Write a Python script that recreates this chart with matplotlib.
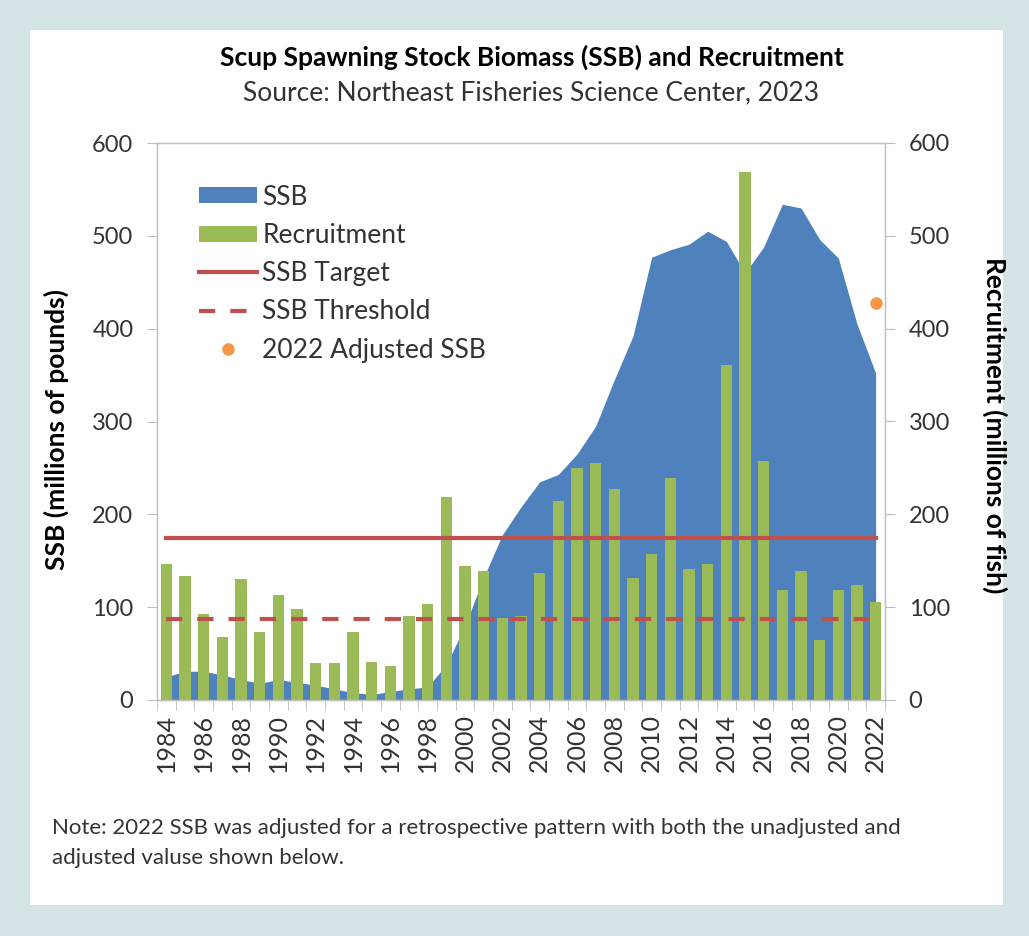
import matplotlib.pyplot as plt
from matplotlib.patches import Rectangle
from matplotlib.lines import Line2D
from matplotlib.patches import Patch
import numpy as np

plt.rcParams['font.family'] = ['Lato', 'DejaVu Sans']

# data
years = list(range(1984, 2023))
ssb = [25, 31, 31, 27, 22, 18, 22, 19, 16, 12, 8, 6, 9, 12, 14, 38, 80, 132,
       178, 208, 235, 243, 265, 295, 345, 392, 477, 485, 491, 505, 494, 460,
       488, 534, 530, 496, 476, 405, 352]
recruitment = [146, 134, 93, 68, 130, 73, 113, 98, 40, 40, 73, 41, 37, 91, 103,
               219, 144, 139, 88, 90, 137, 214, 250, 255, 227, 131, 157, 239,
               141, 146, 361, 569, 257, 118, 139, 65, 118, 124, 106]
ssb_target = 174
ssb_threshold = 87
adjusted_year = 2022
adjusted_ssb = 428
y_ticks = [0, 100, 200, 300, 400, 500, 600]

blue = '#4f81bd'
green = '#9bbb59'
red = '#c0504d'
orange = '#f79646'
grey = '#bfbfbf'
text_col = '#333333'
dash = (3.9, 3.6)

fig = plt.figure(figsize=(10.29, 9.36), dpi=100)
fig.patch.set_facecolor('#d5e4e7')
# white panel inside the border
fig.patches.append(Rectangle((30 / 1029, 1 - 905 / 936), 973 / 1029, 875 / 936,
                             transform=fig.transFigure, facecolor='white',
                             edgecolor='none', zorder=-1))

ax = fig.add_axes([157 / 1029, 1 - 700 / 936, 728 / 1029, 557 / 936])
ax.set_facecolor('white')

ax.fill_between(years, ssb, 0, color=blue, linewidth=0, zorder=1)
ax.bar(years, recruitment, width=0.6, color=green, zorder=2)
ax.plot([years[0], years[-1]], [ssb_target, ssb_target], color=red, lw=3, zorder=3)
ax.plot([years[0], years[-1]], [ssb_threshold, ssb_threshold], color=red, lw=3,
        dashes=dash, zorder=3)
ax.plot([adjusted_year], [adjusted_ssb], 'o', color=orange, ms=8, zorder=4)

ax.set_xlim(1983.5, 2022.5)
ax.set_ylim(0, 600)
for s in ax.spines.values():
    s.set_color(grey)
    s.set_linewidth(1)

ax.set_yticks(y_ticks)
ax.set_yticklabels([str(v) for v in y_ticks], fontsize=17, color=text_col)
ax.tick_params(axis='y', length=7, color=grey, pad=10)

ax.set_xticks(years[::2])
ax.set_xticklabels([str(y) for y in years[::2]], rotation=90, fontsize=18,
                   color=text_col)
ax.set_xticks(np.arange(1983.5, 2023, 1), minor=True)
ax.tick_params(axis='x', which='major', length=0, pad=10)
ax.tick_params(axis='x', which='minor', length=7, color=grey)

ax2 = ax.twinx()
ax2.set_ylim(0, 600)
ax2.set_yticks(y_ticks)
ax2.set_yticklabels([str(v) for v in y_ticks], fontsize=17, color=text_col)
ax2.tick_params(axis='y', length=7, color=grey, pad=10)
for s in ax2.spines.values():
    s.set_color(grey)

fig.text(56 / 1029, 1 - 429 / 936, 'SSB (millions of pounds)', rotation=90,
         fontsize=19, fontweight='bold', ha='center', va='center', color='black')
fig.text(995 / 1029, 1 - 425 / 936, 'Recruitment (millions of fish)', rotation=-90,
         fontsize=19, fontweight='bold', ha='center', va='center', color='black')

fig.text(532 / 1029, 1 - 57 / 936, 'Scup Spawning Stock Biomass (SSB) and Recruitment',
         fontsize=19, fontweight='bold', ha='center', va='center', color='black')
fig.text(531 / 1029, 1 - 93 / 936, 'Source: Northeast Fisheries Science Center, 2023',
         fontsize=19, ha='center', va='center', color=text_col)

fig.text(52 / 1029, 1 - 828 / 936,
         'Note: 2022 SSB was adjusted for a retrospective pattern with both the unadjusted and',
         fontsize=16, ha='left', va='center', color=text_col)
fig.text(52 / 1029, 1 - 858 / 936, 'adjusted valuse shown below.',
         fontsize=16, ha='left', va='center', color=text_col)

handles = [
    Patch(facecolor=blue, edgecolor='none'),
    Patch(facecolor=green, edgecolor='none'),
    Line2D([0], [0], color=red, lw=3),
    Line2D([0], [0], color=red, lw=3, dashes=dash),
    Line2D([0], [0], marker='o', color=orange, ms=8, lw=0),
]
labels = ['SSB', 'Recruitment', 'SSB Target', 'SSB Threshold', '2022 Adjusted SSB']
leg = ax.legend(handles, labels, loc='upper left', bbox_to_anchor=(0.043, 0.944),
                frameon=False, fontsize=19, handlelength=2.2, handleheight=0.55,
                handletextpad=0.2, labelspacing=0.5, borderaxespad=0)
for t in leg.get_texts():
    t.set_color(text_col)

fig.savefig('out.png', dpi=100, facecolor=fig.get_facecolor())
